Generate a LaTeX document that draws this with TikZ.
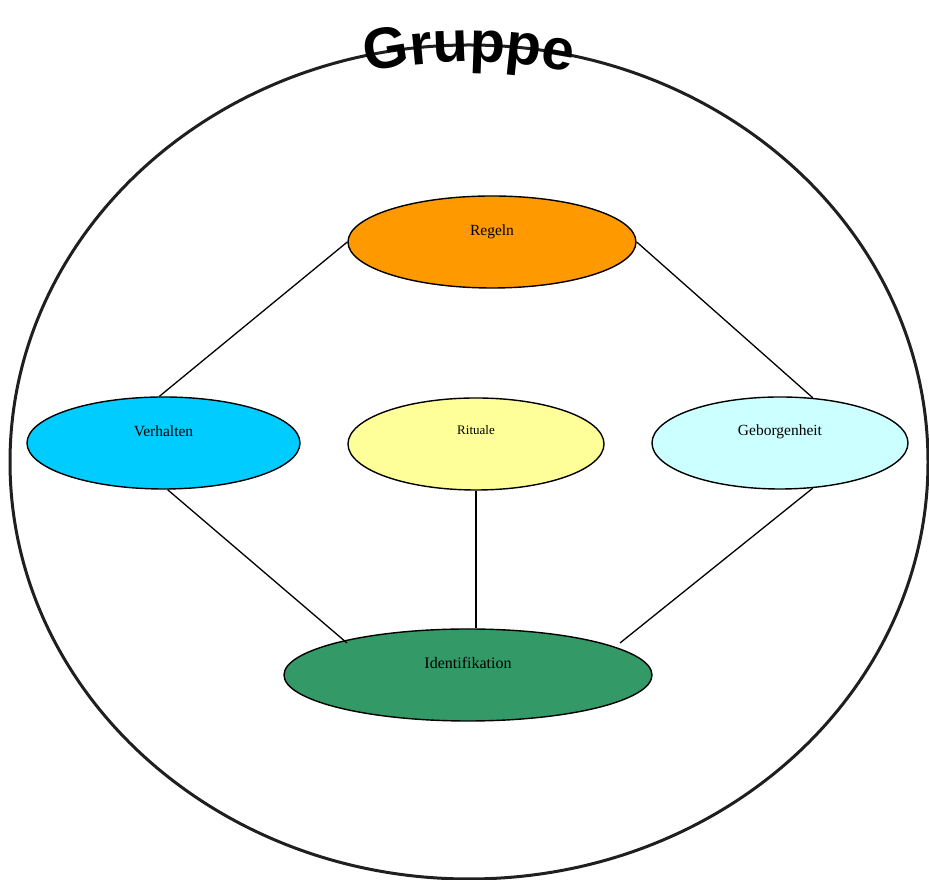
\documentclass[tikz,border=0pt]{standalone}
\usepackage{fontspec}
\setmainfont{Liberation Serif}
\newfontfamily\gruppefont{Liberation Sans}
\usetikzlibrary{shapes.geometric,decorations.text}
\definecolor{regelorange}{HTML}{FF9900}
\definecolor{verhaltencyan}{HTML}{00CCFF}
\definecolor{ritualgelb}{HTML}{FFFF99}
\definecolor{geborgencyan}{HTML}{CCFFFF}
\definecolor{identgruen}{HTML}{339966}
\begin{document}
\begin{tikzpicture}[x=1pt,y=1pt,
			blob/.style={ellipse,draw,line width=1.4pt,inner sep=0pt,minimum height=92pt,
				font=\fontsize{15.5}{18}\selectfont},
			link/.style={line width=1.3pt},]
\useasboundingbox (0,0) rectangle (929,880);
% outer group
\draw[line width=3pt,black!88] (469,418) ellipse [x radius=459, y radius=417];
\path[decorate,decoration={text along path,text align=center,
	text={|\gruppefont\bfseries\fontsize{58}{60}\selectfont|Gruppe}}]
	(469,401) ++(112:459 and 417) arc[start angle=112,end angle=68,x radius=459,y radius=417];
% the five ellipses
\node[blob,fill=regelorange,minimum width=288pt,label={[yshift=10pt,font=\fontsize{15.5}{18}\selectfont]center:Regeln}] (regeln) at (492,638) {};
\node[blob,fill=verhaltencyan,minimum width=273pt,label={[yshift=12pt,font=\fontsize{15.5}{18}\selectfont]center:Verhalten}] (verhalten) at (163.5,437) {};
\node[blob,fill=ritualgelb,minimum width=256pt,label={[yshift=14pt,font=\fontsize{13}{15}\selectfont]center:Rituale}] (rituale) at (476,436) {};
\node[blob,fill=geborgencyan,minimum width=256pt,label={[yshift=11pt,font=\fontsize{15.5}{18}\selectfont]center:Geborgenheit}] (geborgenheit) at (780,437) {};
\node[blob,fill=identgruen,minimum width=368pt,label={[yshift=12pt,font=\fontsize{16}{18}\selectfont]center:Identifikation}] (ident) at (468,205) {};
% links
\draw[link] (regeln.west) -- (verhalten.95);
\draw[link] (regeln.east) -- (geborgenheit.54);
\draw[link] (verhalten.-85) -- ([shift={(-121pt,32pt)}]ident.center);
\draw[link] (rituale.south) -- (rituale.south |- ident.north);
\draw[link] (geborgenheit.-54) -- ([shift={(152pt,32pt)}]ident.center);
\end{tikzpicture}
\end{document}
